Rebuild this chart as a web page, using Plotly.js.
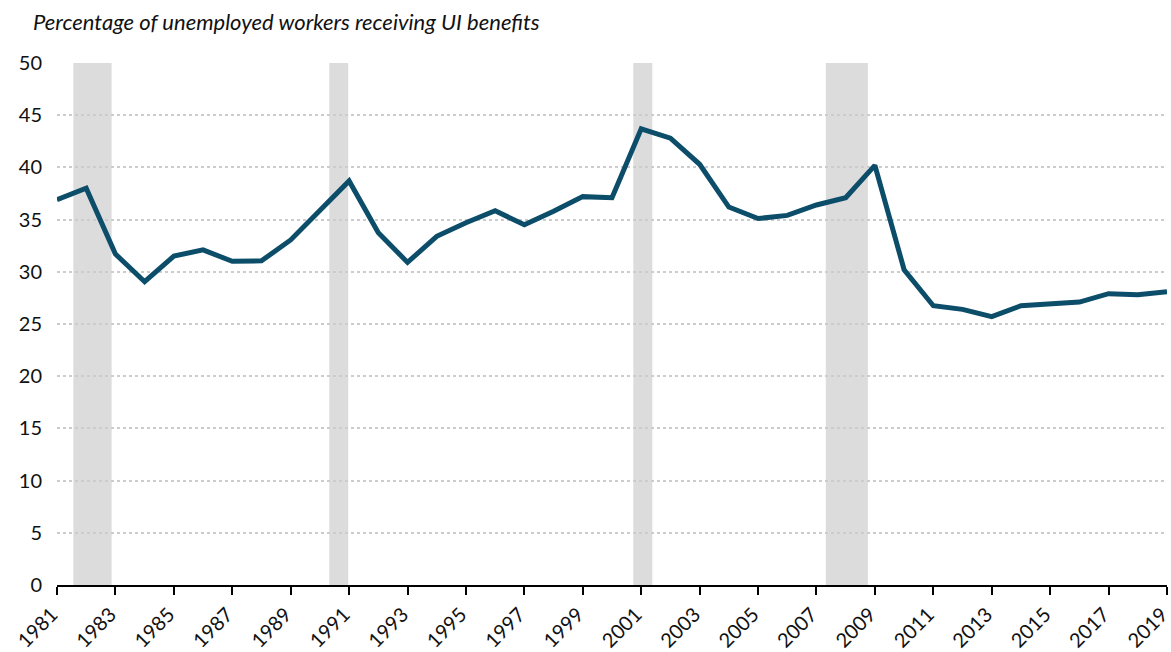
<!DOCTYPE html>
<html>
<head>
<meta charset="utf-8">
<script src="https://cdn.plot.ly/plotly-3.0.1.min.js"></script>
<style>html,body{margin:0;padding:0;background:#fff;}#chart{width:1171px;height:652px;}</style>
</head>
<body>
<div id="chart"></div>
<script>
const years = [1981,1982,1983,1984,1985,1986,1987,1988,1989,1990,1991,1992,1993,1994,1995,1996,1997,1998,1999,2000,2001,2002,2003,2004,2005,2006,2007,2008,2009,2010,2011,2012,2013,2014,2015,2016,2017,2018,2019];
const uiShare = [36.9,38.0,31.7,29.05,31.5,32.1,31.0,31.05,33.05,35.9,38.7,33.75,30.9,33.4,34.7,35.85,34.5,35.8,37.2,37.1,43.7,42.8,40.3,36.2,35.1,35.4,36.4,37.1,40.2,30.2,26.75,26.4,25.7,26.75,26.95,27.1,27.9,27.8,28.1];
const recessionStarts = [1981.56,1990.32,2000.73,2007.32];
const recessionEnds = [1982.87,1990.97,2001.38,2008.76];
const xTicks = [1981,1983,1985,1987,1989,1991,1993,1995,1997,1999,2001,2003,2005,2007,2009,2011,2013,2015,2017,2019];
const yTicks = [0,5,10,15,20,25,30,35,40,45,50];
const titleText = "Percentage of unemployed workers receiving UI benefits";

const shapes = recessionStarts.map((s,i)=>({
  type:'rect', xref:'x', yref:'y', x0:s, x1:recessionEnds[i], y0:0, y1:50,
  fillcolor:'#dcdcdc', line:{width:0}, layer:'below'
}));

const trace = {
  x: years, y: uiShare, type:'scatter', mode:'lines',
  line:{color:'#0c4d6a', width:5, shape:'linear'},
  hoverinfo:'x+y'
};

const layout = {
  width:1171, height:652,
  margin:{l:57, r:4, t:63, b:67},
  paper_bgcolor:'#fff', plot_bgcolor:'rgba(0,0,0,0)',
  showlegend:false,
  font:{family:'Lato, sans-serif', color:'#111', size:18},
  title:{text:titleText, xref:'container', yref:'container', x:33/1171, xanchor:'left', y:1-22/652, yanchor:'middle',
         font:{family:'Lato, sans-serif', size:22, style:'italic', color:'#111'}},
  xaxis:{range:[1981,2019], tickvals:xTicks, ticktext:xTicks.map(String), tickangle:-45,
         showgrid:false, zeroline:false, showline:true, linecolor:'#000', linewidth:2,
         ticks:'outside', ticklen:8, tickwidth:2, tickcolor:'#000', ticklabeloverflow:'allow',
         ticklabelshift:-5,
         tickfont:{family:'Lato, sans-serif', size:20, color:'#111'}},
  yaxis:{range:[0,50], tickvals:yTicks, showgrid:true, gridcolor:'#cccccc', gridwidth:2, griddash:'dot',
         zeroline:false, showline:false, ticks:'', ticklabelstandoff:14,
         tickfont:{family:'Lato, sans-serif', size:20, color:'#111'}},
  shapes:shapes
};

Plotly.newPlot('chart',[trace],layout,{displayModeBar:false, staticPlot:true});
</script>
</body>
</html>
